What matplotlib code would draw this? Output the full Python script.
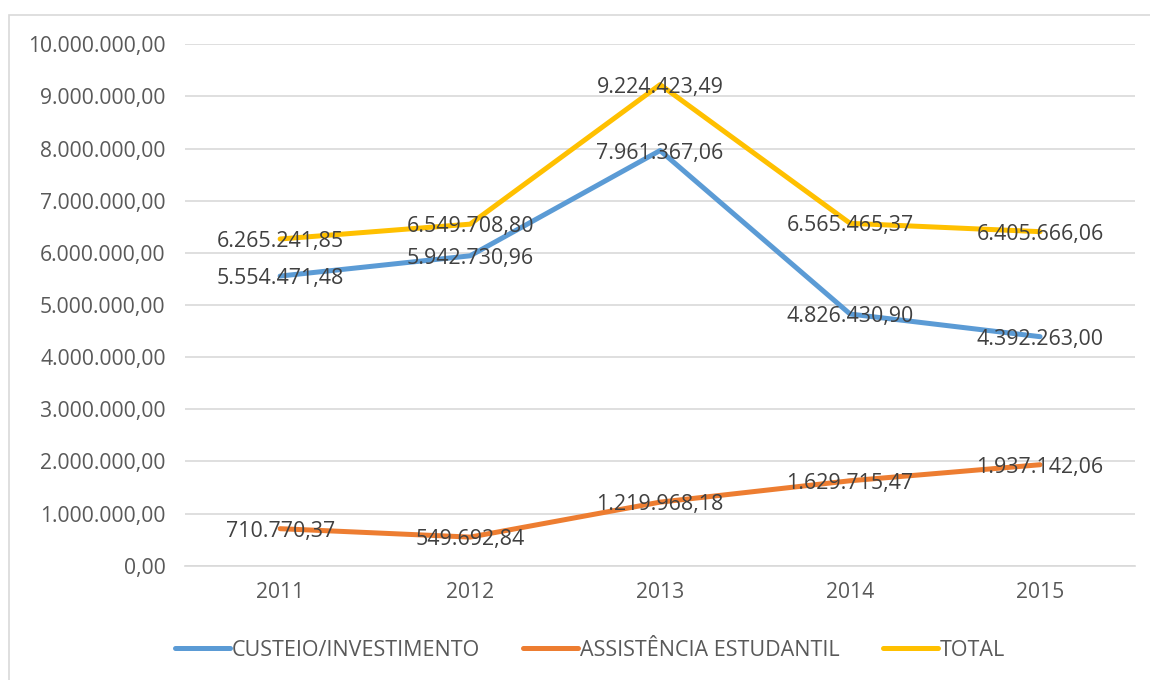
import matplotlib.pyplot as plt
from matplotlib.patches import Rectangle
from matplotlib.ticker import FuncFormatter

plt.rcParams["font.family"] = ["Open Sans", "DejaVu Sans"]

years = ["2011", "2012", "2013", "2014", "2015"]
custeio = [5554471.48, 5942730.96, 7961367.06, 4826430.90, 4392263.00]
assistencia = [710770.37, 549692.84, 1219968.18, 1629715.47, 1937142.06]
total = [6265241.85, 6549708.80, 9224423.49, 6565465.37, 6405666.06]

series = [
    ("CUSTEIO/INVESTIMENTO", custeio, "#5B9BD5"),
    ("ASSISTÊNCIA ESTUDANTIL", assistencia, "#ED7D31"),
    ("TOTAL", total, "#FFC000"),
]


def br_fmt(v, pos=None):
    s = "{:,.2f}".format(v)
    return s.replace(",", "X").replace(".", ",").replace("X", ".")


fig = plt.figure(figsize=(11.5, 6.8), dpi=100)
ax = fig.add_axes([0.161, 0.168, 0.826, 0.767])

x = list(range(len(years)))
for name, vals, col in series:
    ax.plot(x, vals, color=col, lw=3.6, label=name, solid_capstyle="round", zorder=3)

for name, vals, col in series:
    for xi, v in zip(x, vals):
        ax.text(xi, v, br_fmt(v), ha="center", va="center_baseline", fontsize=15.4,
                color="#404040", zorder=4)

ax.set_xlim(-0.5, 4.5)
ax.set_ylim(0, 10000000)
ax.set_yticks(range(0, 10000001, 1000000))
ax.yaxis.set_major_formatter(FuncFormatter(br_fmt))
ax.set_xticks(x)
ax.set_xticklabels(years)
ax.tick_params(axis="both", length=0, labelsize=15.2, labelcolor="#595959")
ax.tick_params(axis="y", pad=14)
ax.tick_params(axis="x", pad=12)
ax.grid(axis="y", color="#D9D9D9", lw=1.2)
ax.set_axisbelow(True)
for side in ["top", "right", "left"]:
    ax.spines[side].set_visible(False)
ax.spines["bottom"].set_color("#D9D9D9")
ax.spines["bottom"].set_linewidth(1.2)

leg = fig.legend(loc="center", bbox_to_anchor=(0.513, 0.044), ncol=3, frameon=False,
                 fontsize=15.5, handlelength=2.55, handletextpad=0.1, columnspacing=2.0)
for t in leg.get_texts():
    t.set_color("#595959")

fig.patches.append(Rectangle((9 / 1150, -0.1), 1.2, 1.1 - 15 / 680,
                             transform=fig.transFigure, fill=False,
                             edgecolor="#D9D9D9", lw=1.2))

fig.savefig("out.png", dpi=100)
